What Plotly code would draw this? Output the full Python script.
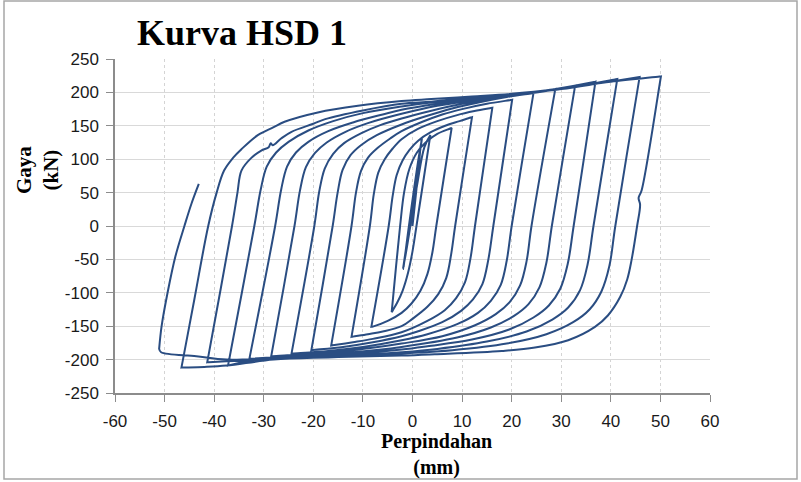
import plotly.graph_objects as go

# ---- hysteresis data: displacement (mm) / force (kN), by half-cycle ----
init_x = [0.0, 1.8, -1.9, 1.9, -1.8, 0.9, 2.4, 3.6]
init_y = [0, 130, -64, 131, -62, 60, 118, 136]

u1_x = [3.6, 0.8, 0.0, -0.9, -2.0, -3.1, -3.95, -4.2]
u1_y = [136, 0, -38, -70, -97, -115, -126, -129]
r1_x = [-4.2, -2.5, -1.7, -0.6, 0.9, 2.8, 5.0, 7.6, 7.9]
r1_y = [-129, 0, 50, 86, 110, 126, 138, 146, 147]

u2_x = [7.9, 4.8, 4.0, 3.0, 1.6, -0.2, -2.2, -5.0, -8.0, -8.3]
u2_y = [147, 0, -40, -72, -97, -116, -130, -142, -150.6, -151]
r2_x = [-8.3, -4.8, -4.0, -3.2, -2.0, -0.6, 1.2, 3.6, 6.6, 9.5, 11.7, 12.0]
r2_y = [-151, 0, 45, 76, 98, 114, 128, 140, 150, 157, 162.4, 163]

u3_x = [12.0, 8.6, 7.8, 6.8, 5.2, 3.0, 0.0, -2.2, -6.0, -9.0, -12.0, -12.3]
u3_y = [163, 0, -42, -78, -102, -121, -139, -150, -158, -162, -165.6, -166]
r3_x = [-12.3, -8.6, -7.8, -6.9, -5.6, -4.0, -2.2, 1.0, 5.0, 9.0, 12.5, 15.8, 16.1]
r3_y = [-166, 0, 48, 80, 100, 116, 130, 145, 157, 166, 172, 176.6, 177]

u4_x = [16.1, 12.6, 11.7, 10.6, 8.8, 6.5, 3.0, -2.2, -8.0, -12.0, -16.1, -16.4]
u4_y = [177, 0, -48, -84, -108, -126, -142, -159, -169, -174, -178.6, -179]
r4_x = [-16.4, -12.3, -11.4, -10.4, -9.0, -7.0, -4.5, -2.2, 2.0, 6.0, 10.0, 15.0, 19.8, 20.1]
r4_y = [-179, 0, 50, 82, 102, 117, 131, 142, 156, 167, 175, 183, 188.6, 189]

u5_x = [20.1, 16.3, 15.3, 14.1, 12.2, 9.8, 6.0, 1.0, -2.2, -8.0, -14.0, -20.1, -20.4]
u5_y = [189, 0, -50, -87, -110, -127, -144, -158, -165, -174, -181, -185.7, -186]
r5_x = [-20.4, -16.1, -15.1, -14.1, -12.5, -10.4, -7.2, -2.2, 3.0, 8.0, 14.0, 19.0, 24.1, 24.4]
r5_y = [-186, 0, 50, 84, 106, 121, 136, 152, 165, 176, 186, 193, 198.6, 199]

u6_x = [24.4, 20.0, 19.0, 17.8, 15.8, 13.2, 9.0, 3.0, -2.2, -10.0, -17.0, -24.1, -24.4]
u6_y = [199, 0, -52, -88, -112, -130, -147, -162, -171, -181, -187, -190.8, -191]
r6_x = [-24.4, -19.8, -18.8, -17.7, -16.0, -13.8, -10.3, -6.5, -2.2, 4.0, 10.0, 16.0, 22.0, 28.5, 28.8]
r6_y = [-191, 0, 52, 86, 108, 124, 139, 151, 161, 173, 183, 191, 198, 204.6, 205]

u7_x = [28.8, 24.0, 23.0, 21.7, 19.6, 16.8, 12.5, 6.0, -2.2, -12.0, -20.0, -28.2, -28.5]
u7_y = [205, 0, -53, -89, -114, -132, -149, -165, -176, -186, -191, -194.8, -195]
r7_x = [-28.5, -23.8, -22.7, -21.5, -19.7, -17.3, -13.5, -9.0, -2.2, 5.0, 12.0, 20.0, 26.0, 32.5, 32.8]
r7_y = [-195, 0, 53, 88, 109, 125, 141, 154, 168, 180, 188, 195, 201, 209.5, 210]

u8_x = [32.8, 28.1, 27.0, 25.6, 23.4, 20.4, 15.8, 9.0, -2.2, -12.0, -22.0, -32.6, -32.9]
u8_y = [210, 0, -55, -92, -117, -135, -152, -167, -181, -189, -194, -198.8, -199]
r8_x = [-32.9, -27.7, -26.5, -25.3, -23.5, -21.0, -17.0, -12.0, -6.0, -2.2, 5.0, 12.0, 20.0, 28.0, 36.6, 36.9]
r8_y = [-199, 0, 54, 89, 110, 126, 142, 155, 167, 174, 183, 190, 196, 204, 215.5, 216]

u9_x = [36.9, 32.5, 31.3, 29.8, 27.5, 24.4, 19.5, 12.0, 3.0, -2.2, -14.0, -26.0, -33.0, -36.9, -37.2]
u9_y = [216, 0, -57, -94, -119, -137, -155, -170, -180, -185, -193, -198, -202, -208.4, -209]
r9_x = [-37.2, -31.9, -30.6, -29.4, -27.5, -25.0, -21.0, -16.0, -10.0, -2.2, 5.0, 12.0, 20.0, 30.0, 41.0, 41.3]
r9_y = [-209, 0, 55, 89, 110, 126, 143, 157, 169, 179, 186, 191, 197, 205, 219.6, 220]

u10_x = [41.3, 36.5, 35.3, 33.8, 31.4, 28.2, 23.0, 15.0, 5.0, -2.2, -15.0, -28.0, -36.0, -41.1, -41.4]
u10_y = [220, 0, -58, -96, -122, -140, -158, -173, -184, -189, -195, -199, -202, -203.8, -204]
r10_x = [-41.4, -36.4, -35.3, -34.5, -32.5, -30.5, -29.0, -28.6, -28.2, -26.5, -24.4, -20.0,
         -17.6, -10.0, -2.2, 3.8, 12.0, 20.0, 30.0, 38.0, 45.5, 45.8]
r10_y = [-204, 0, 50, 83, 102, 113, 118, 124, 121, 131, 141, 153,
         160, 173, 183, 186, 192, 197, 205, 214, 222.6, 223]

u11_x = [45.8, 40.9, 39.7, 38.1, 35.7, 32.4, 27.0, 19.0, 8.0, -2.2, -15.0, -28.0, -37.5, -42.0, -46.3, -46.6]
u11_y = [223, 0, -60, -98, -125, -144, -162, -176, -186, -191, -196, -200, -209, -211, -211.9, -212]
r11_x = [-46.6, -44.0, -41.2, -39.5, -38.0, -36.2, -34.5, -31.2, -28.0, -25.8, -19.1, -11.0,
         -2.2, 3.8, 12.0, 20.0, 30.0, 40.0, 49.8, 50.1]
r11_y = [-212, -110, 0, 50, 83, 102, 115, 136, 148, 156, 170, 180,
         187, 190, 194, 198, 206, 216, 223.7, 224]

u12_x = [50.1, 49.8, 46.2, 45.6, 45.9, 45.3, 44.2, 43.3, 41.9, 39.4, 36.8, 31.4, 24.7, 18.0,
         4.5, -2.2, -15.0, -28.0, -37.5, -43.6, -50.7, -51.1]
u12_y = [224, 210, 53, 42, 32, 0, -50, -80, -106, -134, -151, -171, -182, -187,
         -192, -194, -196, -198, -200, -195, -189, -184]

final_x = [-51.1, -50.6, -49.4, -47.8, -46.0, -44.6, -43.1]
final_y = [-184, -150, -100, -45, 0, 33, 63]

x_ticks = [-60, -50, -40, -30, -20, -10, 0, 10, 20, 30, 40, 50, 60]
y_ticks = [-250, -200, -150, -100, -50, 0, 50, 100, 150, 200, 250]

halves = [
    (init_x, init_y),
    (u1_x, u1_y), (r1_x, r1_y), (u2_x, u2_y), (r2_x, r2_y),
    (u3_x, u3_y), (r3_x, r3_y), (u4_x, u4_y), (r4_x, r4_y),
    (u5_x, u5_y), (r5_x, r5_y), (u6_x, u6_y), (r6_x, r6_y),
    (u7_x, u7_y), (r7_x, r7_y), (u8_x, u8_y), (r8_x, r8_y),
    (u9_x, u9_y), (r9_x, r9_y), (u10_x, u10_y), (r10_x, r10_y),
    (u11_x, u11_y), (r11_x, r11_y), (u12_x, u12_y), (final_x, final_y),
]
X, Y = [], []
for hx, hy in halves:
    X.extend(hx)
    Y.extend(hy)

fig = go.Figure()
fig.add_trace(go.Scatter(x=X, y=Y, mode="lines",
                         line=dict(color="#2A4D82", width=2, shape="spline", smoothing=1.0),
                         hoverinfo="skip", showlegend=False))

W, H = 801, 482
L, R, T, B = 115, 91, 59, 89
pw, ph = W - L - R, H - T - B

def px(xp):
    return (xp - L) / pw

def py(yp):
    return (H - B - yp) / ph

tick_font = dict(family="Liberation Sans, Arial, sans-serif", size=17, color="#1a1a1a")
serif = "Liberation Serif, Times New Roman, serif"

fig.update_layout(
    width=W, height=H,
    margin=dict(l=L, r=R, t=T, b=B),
    paper_bgcolor="white", plot_bgcolor="white",
    xaxis=dict(range=[-60, 60], tickvals=x_ticks, ticktext=[str(v) for v in x_ticks],
               showgrid=True, gridcolor="#D4D4D4", griddash="dot", gridwidth=1,
               zeroline=False, showline=True, linecolor="#8C8C8C", linewidth=1.5,
               ticks="outside", ticklen=7, tickcolor="#8C8C8C", tickfont=tick_font,
               ticklabelstandoff=5),
    yaxis=dict(range=[-250, 250], tickvals=y_ticks, ticktext=[str(v) for v in y_ticks],
               showgrid=True, gridcolor="#D9D9D9", gridwidth=1,
               zeroline=False, showline=True, linecolor="#8C8C8C", linewidth=1.5,
               ticks="outside", ticklen=7, tickcolor="#8C8C8C", tickfont=tick_font,
               ticklabelstandoff=4),
    annotations=[
        dict(text="<b>Kurva HSD 1</b>", x=px(242), y=py(33), xref="paper", yref="paper",
             xanchor="center", yanchor="middle", showarrow=False,
             font=dict(family=serif, size=36, color="black")),
        dict(text="<b>Gaya</b><br><b>(kN)</b>", x=px(37), y=py(170), xref="paper", yref="paper",
             xanchor="center", yanchor="middle", showarrow=False, textangle=-90,
             font=dict(family=serif, size=21, color="black")),
        dict(text="<b>Perpindahan</b><br><b>(mm)</b>", x=px(436), y=py(454), xref="paper", yref="paper",
             xanchor="center", yanchor="middle", showarrow=False,
             font=dict(family=serif, size=20, color="black")),
    ],
    shapes=[dict(type="rect", xref="paper", yref="paper",
                 x0=px(4), x1=px(797), y0=py(479), y1=py(1),
                 line=dict(color="#A6A6A6", width=1.5), fillcolor="rgba(0,0,0,0)", layer="below")],
)

fig.write_html("out.html")
